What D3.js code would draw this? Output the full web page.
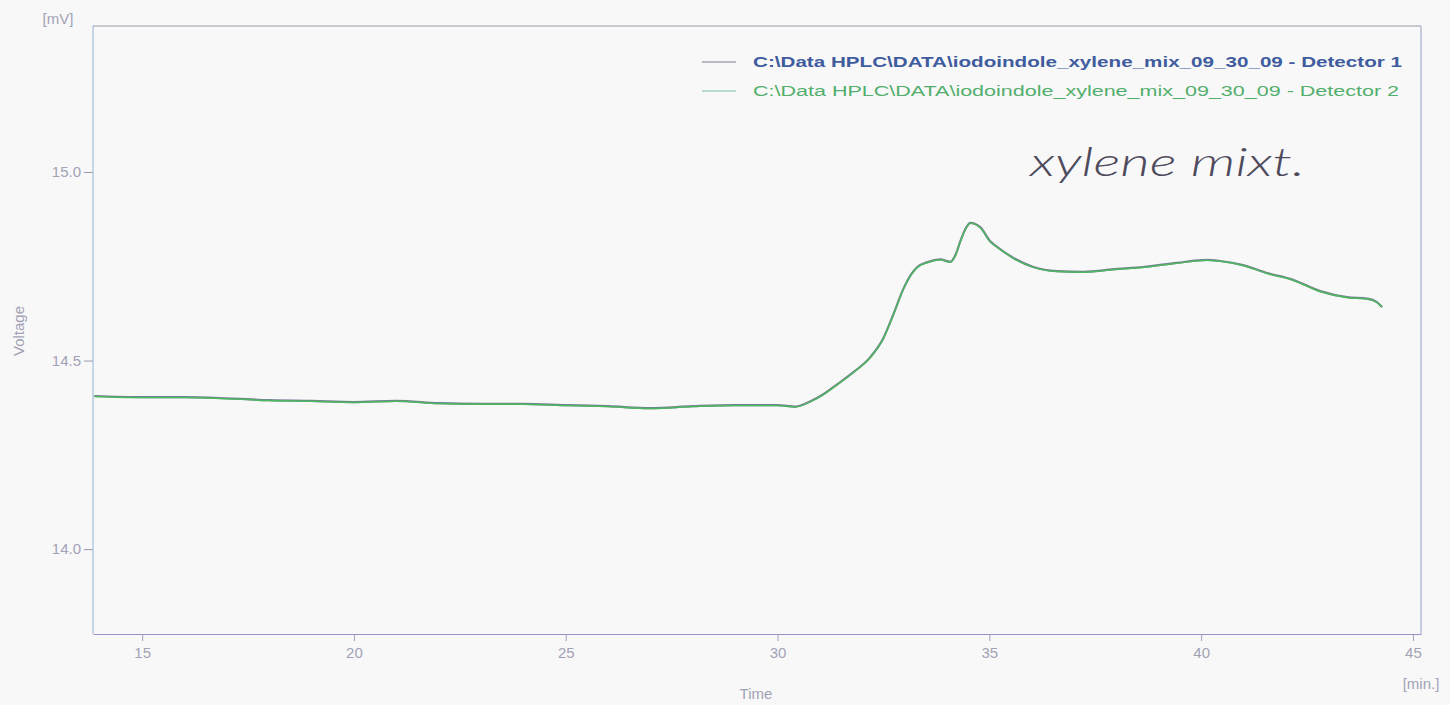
<!DOCTYPE html>
<html>
<head>
<meta charset="utf-8">
<script src="https://cdn.jsdelivr.net/npm/d3@7"></script>
<style>
  html, body { margin: 0; padding: 0; background: #f8f8f8; }
  svg { display: block; }
</style>
</head>
<body>
<svg id="chart" width="1450" height="705"></svg>
<script>
// ---- data ----
const times = [13.87, 15, 16, 17, 18, 19, 20, 21, 22, 23, 24, 25, 26, 27, 28, 29, 30,
  30.42, 30.78, 31.1, 31.42, 31.8, 32.19, 32.5, 32.74, 32.97, 33.15, 33.3, 33.54, 33.84, 34.08, 34.2, 34.32,
  34.45, 34.55, 34.79, 35.02, 35.19, 35.57, 36.04, 36.6, 37.22, 38.02, 38.63, 39.43, 40.14, 40.45,
  40.99, 41.56, 42.17, 42.81, 43.44, 43.92, 44.15, 44.27];
const detector1 = [14.406, 14.403, 14.403, 14.400, 14.395, 14.393, 14.390, 14.393, 14.387,
  14.385, 14.385, 14.382, 14.379, 14.374, 14.379, 14.382, 14.382,
  14.378, 14.392, 14.412, 14.438, 14.470, 14.509, 14.560, 14.624, 14.690, 14.728, 14.748, 14.761, 14.768, 14.762,
  14.780, 14.818, 14.852, 14.865, 14.853, 14.816, 14.801, 14.772, 14.748, 14.737, 14.735, 14.743,
  14.748, 14.759, 14.767, 14.764, 14.753, 14.732, 14.714, 14.684, 14.668, 14.664, 14.655, 14.642];
const detector2 = [14.405, 14.402, 14.402, 14.399, 14.394, 14.392, 14.389, 14.392, 14.386,
  14.384, 14.384, 14.381, 14.378, 14.373, 14.378, 14.381, 14.381,
  14.377, 14.391, 14.411, 14.437, 14.469, 14.508, 14.559, 14.623, 14.689, 14.727, 14.747, 14.760, 14.767, 14.761,
  14.779, 14.817, 14.851, 14.864, 14.852, 14.815, 14.800, 14.771, 14.747, 14.736, 14.734, 14.742,
  14.747, 14.758, 14.766, 14.763, 14.752, 14.731, 14.713, 14.683, 14.667, 14.663, 14.654, 14.641];
const xTicks = [15, 20, 25, 30, 35, 40, 45];
const yTicks = [14.0, 14.5, 15.0];
const seriesNames = [
  "C:\\Data HPLC\\DATA\\iodoindole_xylene_mix_09_30_09 - Detector 1",
  "C:\\Data HPLC\\DATA\\iodoindole_xylene_mix_09_30_09 - Detector 2"
];
const annotation = "xylene mixt.";

// ---- layout ----
const svg = d3.select("#chart");
const L = 93, R = 1421, T = 26, B = 634;
const x = d3.scaleLinear().domain([13.84, 45.19]).range([L, R]);
const y = d3.scaleLinear().domain([13.775, 15.387]).range([B, T]);
const font = "'Liberation Sans', Arial, sans-serif";
const tickCol = "#a2a2b6";

// frame
svg.append("line").attr("x1", L).attr("x2", R).attr("y1", T).attr("y2", T).attr("stroke", "#9a9aa8").attr("stroke-width", 1);
svg.append("line").attr("x1", R).attr("x2", R).attr("y1", T).attr("y2", B).attr("stroke", "#94a4c4").attr("stroke-width", 1);
svg.append("line").attr("x1", L).attr("x2", L).attr("y1", T).attr("y2", B).attr("stroke", "#a6c0dc").attr("stroke-width", 1.2);

// axes
const xAxis = svg.append("g").attr("transform", `translate(0,${B})`)
  .call(d3.axisBottom(x).tickValues(xTicks).tickFormat(d3.format("d")).tickSize(7).tickPadding(6).tickSizeOuter(0));
xAxis.select(".domain").attr("stroke", "#9e90c8").attr("stroke-width", 1.2);
xAxis.selectAll(".tick line").attr("stroke", "#9aa0c0");
xAxis.selectAll("text").attr("fill", tickCol).attr("font-family", font).attr("font-size", 15);

const yAxis = svg.append("g").attr("transform", `translate(${L},0)`)
  .call(d3.axisLeft(y).tickValues(yTicks).tickFormat(d3.format(".1f")).tickSize(9).tickPadding(3).tickSizeOuter(0));
yAxis.select(".domain").remove();
yAxis.selectAll(".tick line").attr("stroke", "#9a9ab0");
yAxis.selectAll("text").attr("fill", tickCol).attr("font-family", font).attr("font-size", 15);

// axis labels
svg.append("text").attr("x", 58).attr("y", 24).attr("text-anchor", "middle")
  .attr("fill", tickCol).attr("font-family", font).attr("font-size", 15).text("[mV]");
svg.append("text").attr("transform", "translate(24,331) rotate(-90)").attr("text-anchor", "middle")
  .attr("fill", tickCol).attr("font-family", font).attr("font-size", 15).text("Voltage");
svg.append("text").attr("x", 756).attr("y", 699).attr("text-anchor", "middle")
  .attr("fill", tickCol).attr("font-family", font).attr("font-size", 15).text("Time");
svg.append("text").attr("x", 1421).attr("y", 689).attr("text-anchor", "middle")
  .attr("fill", tickCol).attr("font-family", font).attr("font-size", 15).text("[min.]");

// traces
const line = vals => d3.line().curve(d3.curveMonotoneX).x((d, i) => x(times[i])).y(d => y(d))(vals);
svg.append("path").attr("d", line(detector1)).attr("fill", "none")
  .attr("stroke", "#7a7a98").attr("stroke-width", 2.2).attr("stroke-linejoin", "round");
svg.append("path").attr("d", line(detector2)).attr("fill", "none")
  .attr("stroke", "#4cb85e").attr("stroke-width", 1.5).attr("stroke-linejoin", "round");

// legend
const legend = svg.append("g");
const legendColors = [{line: "#7c7c9c", text: "#3f5c9e", weight: "bold"}, {line: "#78c0a0", text: "#52ae6c", weight: "normal"}];
seriesNames.forEach((name, i) => {
  const yy = 62 + i * 29;
  legend.append("line").attr("x1", 702).attr("x2", 736).attr("y1", yy).attr("y2", yy)
    .attr("stroke", legendColors[i].line).attr("stroke-width", 1.2);
  legend.append("text").attr("x", 753).attr("y", yy + 5).attr("fill", legendColors[i].text)
    .attr("font-family", font).attr("font-size", 15.5).attr("font-weight", legendColors[i].weight)
    .attr("textLength", i === 0 ? 649 : 646).attr("lengthAdjust", "spacingAndGlyphs").text(name);
});

// handwritten annotation
svg.append("text").attr("x", 1030).attr("y", 176).attr("fill", "#4e4a5c")
  .attr("font-family", "Lato, 'DejaVu Sans', sans-serif").attr("font-weight", 300).attr("font-style", "italic")
  .attr("font-size", 40).attr("textLength", 275).attr("lengthAdjust", "spacingAndGlyphs").text(annotation);
</script>
</body>
</html>
